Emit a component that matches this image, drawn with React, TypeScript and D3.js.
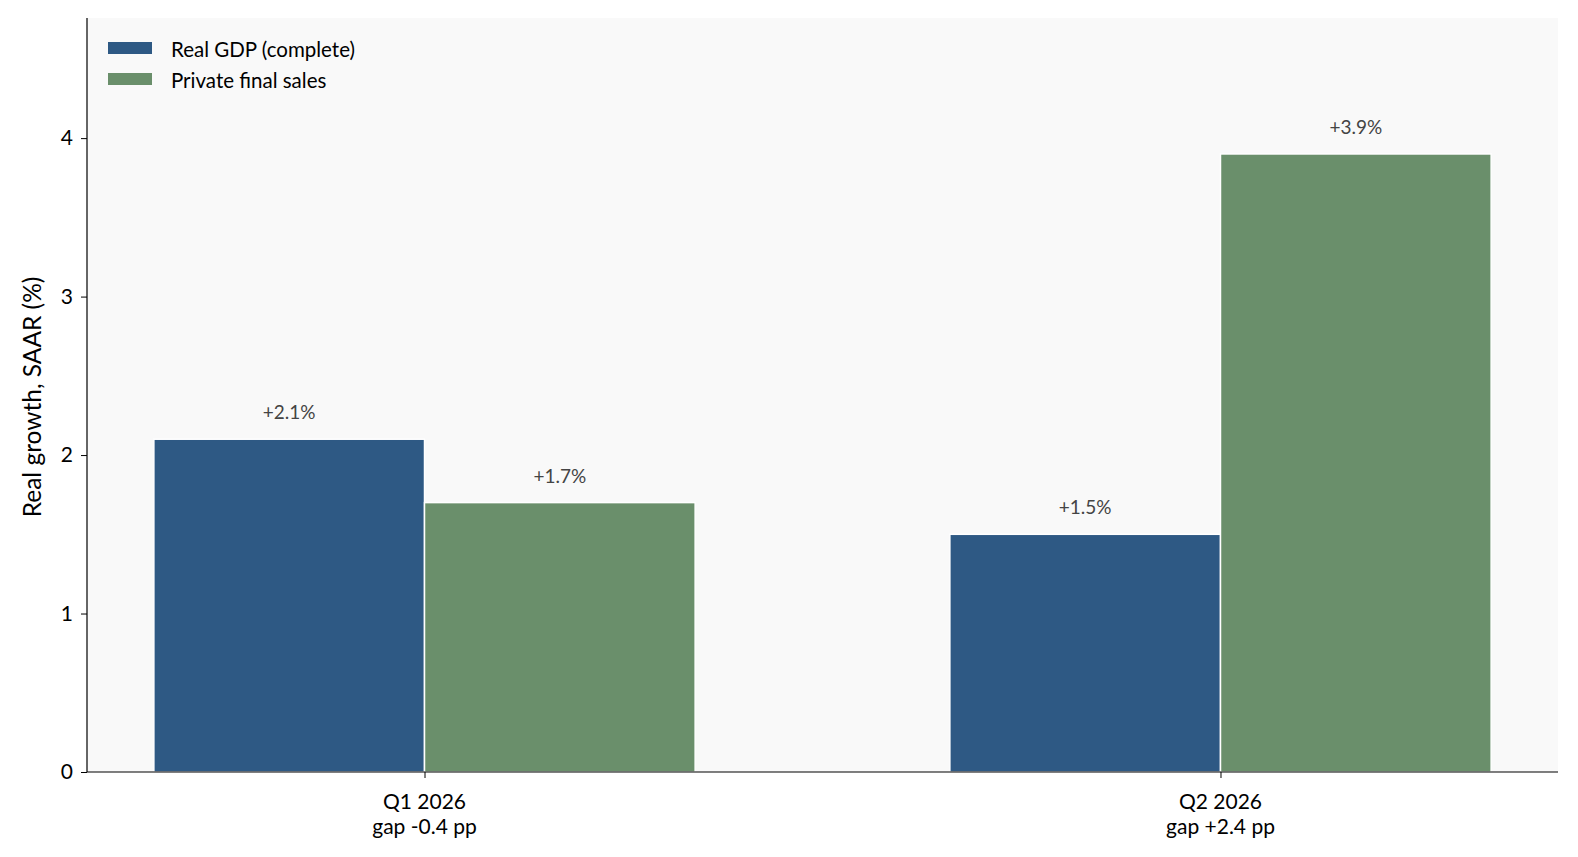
import React, { useRef, useEffect } from 'react';
import * as d3 from 'd3';

const quarters = ['Q1 2026', 'Q2 2026'];
const gapLabels = ['gap -0.4 pp', 'gap +2.4 pp'];
const seriesNames = ['Real GDP (complete)', 'Private final sales'];
const gdpValues = [2.1, 1.5];
const pfsValues = [1.7, 3.9];
const yTicks = [0, 1, 2, 3, 4];

const colors = ['#2e5984', '#6a8f6b'];
const FONT = 'Lato, "Open Sans", sans-serif';

const App: React.FC = () => {
  const svgRef = useRef<SVGSVGElement>(null);

  useEffect(() => {
    if (!svgRef.current) return;
    document.body.style.margin = '0';
    document.body.style.overflow = 'hidden';

    const W = 1578, H = 857;
    const margin = { top: 18, right: 20, bottom: 85, left: 87 };
    const width = W - margin.left - margin.right;
    const height = H - margin.top - margin.bottom;

    const root = d3.select(svgRef.current);
    root.selectAll('*').remove();
    root.attr('width', W).attr('height', H);

    const svg = root.append('g')
      .attr('transform', 'translate(' + margin.left + ',' + margin.top + ')');

    svg.append('rect')
      .attr('width', width).attr('height', height)
      .attr('fill', '#f9f9f9');

    const w = 0.34;
    const pad = 0.05 * (1 + 2 * w);
    const x = d3.scaleLinear().domain([-w - pad, 1 + w + pad]).range([0, width]);
    const y = d3.scaleLinear().domain([0, 3.9 * 1.22]).range([height, 0]);

    const series = [gdpValues, pfsValues];

    // bars
    series.forEach((vals, si) => {
      svg.selectAll('.bar' + si)
        .data(vals)
        .enter()
        .append('rect')
        .attr('x', (_d, i) => x(i + (si === 0 ? -w : 0)))
        .attr('y', (d) => y(d))
        .attr('width', x(w) - x(0))
        .attr('height', (d) => y(0) - y(d))
        .attr('fill', colors[si])
        .attr('stroke', 'white')
        .attr('stroke-width', 1.5);

      svg.selectAll('.lbl' + si)
        .data(vals)
        .enter()
        .append('text')
        .attr('x', (_d, i) => x(i + (si === 0 ? -w / 2 : w / 2)))
        .attr('y', (d) => y(d) - 20)
        .attr('text-anchor', 'middle')
        .attr('font-family', FONT)
        .attr('font-size', 19)
        .attr('fill', '#444')
        .text((d) => '+' + d.toFixed(1) + '%');
    });

    // y axis
    const yAxis = svg.append('g')
      .call(d3.axisLeft(y).tickValues(yTicks).tickSize(6).tickPadding(8).tickFormat(d3.format('d')));
    yAxis.select('.domain').attr('stroke', '#000').attr('stroke-width', 1.2)
      .attr('d', 'M0,' + height + 'V0');
    yAxis.selectAll('text').attr('font-family', FONT).attr('font-size', 21).attr('fill', '#000');

    // x axis
    const xAxis = svg.append('g')
      .attr('transform', 'translate(0,' + height + ')')
      .call(d3.axisBottom(x).tickValues([0, 1]).tickSize(6).tickFormat(() => ''));
    xAxis.select('.domain').attr('stroke', '#000').attr('stroke-width', 1.2)
      .attr('d', 'M0,0H' + width);

    quarters.forEach((q, i) => {
      const t = svg.append('text')
        .attr('x', x(i))
        .attr('y', height + 37)
        .attr('text-anchor', 'middle')
        .attr('font-family', FONT)
        .attr('font-size', 21)
        .attr('fill', '#000');
      t.append('tspan').attr('x', x(i)).text(q);
      t.append('tspan').attr('x', x(i)).attr('dy', 25).text(gapLabels[i]);
    });

    // y label
    svg.append('text')
      .attr('transform', 'translate(' + (31 - margin.left) + ',' + (397 - margin.top) + ') rotate(-90)')
      .attr('text-anchor', 'middle')
      .attr('dominant-baseline', 'central')
      .attr('font-family', FONT)
      .attr('font-size', 24.5)
      .attr('fill', '#000')
      .text('Real growth, SAAR (%)');

    // legend
    seriesNames.forEach((name, i) => {
      const ly = 30 + i * 31;
      svg.append('rect')
        .attr('x', 21).attr('y', ly - 6)
        .attr('width', 44).attr('height', 12)
        .attr('fill', colors[i]);
      svg.append('text')
        .attr('x', 84).attr('y', ly + 1)
        .attr('dominant-baseline', 'central')
        .attr('font-family', FONT)
        .attr('font-size', 20.5)
        .attr('fill', '#000')
        .text(name);
    });
  }, []);

  return <svg ref={svgRef} style={{ display: 'block' }} />;
};

export default App;
